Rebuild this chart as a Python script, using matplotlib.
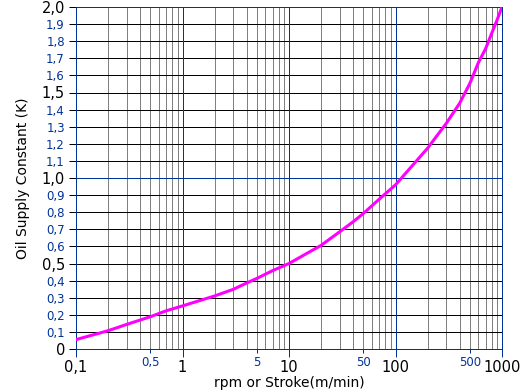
import matplotlib
matplotlib.use("Agg")
import matplotlib.pyplot as plt

# data
speed = [0.1, 0.2, 0.3, 0.5, 0.7, 1, 2, 3, 4, 5, 7, 10, 20, 30, 40, 50, 70, 100,
         200, 300, 400, 500, 600, 700, 800, 900, 1000]
k_const = [0.055, 0.107, 0.144, 0.189, 0.223, 0.252, 0.31, 0.349, 0.386, 0.413, 0.458,
           0.50, 0.606, 0.686, 0.744, 0.793, 0.875, 0.96, 1.174, 1.32, 1.437, 1.554,
           1.675, 1.755, 1.846, 1.925, 2.00]

x_ticks = [0.1, 0.5, 1, 5, 10, 50, 100, 500, 1000]
x_labels = ["0,1", "0,5", "1", "5", "10", "50", "100", "500", "1000"]
y_ticks = [round(i * 0.1, 1) for i in range(21)]
y_labels = ["0" if v == 0 else f"{v:.1f}".replace(".", ",") for v in y_ticks]

BLUE = "#003399"
PX = 0.72  # one pixel in points at 100 dpi
fig = plt.figure(figsize=(5.21, 3.90), dpi=100)
ax = fig.add_axes([76 / 521, 41 / 390, 426 / 521, 342 / 390])

ax.set_xscale("log")
ax.set_xlim(0.1, 1000)
ax.set_ylim(0, 2.0)

# vertical grid
for dec in [0.1, 1, 10, 100]:
    for m in range(2, 10):
        ax.axvline(dec * m, color="#808080", lw=PX, zorder=1)
for dec in [1, 10, 100]:
    ax.axvline(dec, color=BLUE, lw=PX, zorder=1.5)
# horizontal grid
for v in y_ticks[1:-1]:
    ax.axhline(v, color=BLUE if v == 1.0 else "black", lw=PX, zorder=1.2)

ax.plot(speed, k_const, color="#ff00ff", lw=2.2, zorder=3)

for s in ax.spines.values():
    s.set_color(BLUE)
    s.set_linewidth(PX)
    s.set_zorder(2)

ax.set_yticks(y_ticks)
ax.set_yticklabels(y_labels)
ax.tick_params(axis="y", direction="out", length=5, width=PX, color="black", pad=3)
for t, v in zip(ax.yaxis.get_major_ticks(), y_ticks):
    if v == 1.0:
        t.tick1line.set_color(BLUE)
for lab, v in zip(ax.get_yticklabels(), y_ticks):
    if abs(round(v * 10) % 5) == 0:
        lab.set_color("black"); lab.set_fontsize(10.5)
    else:
        lab.set_color(BLUE); lab.set_fontsize(8.5)

ax.xaxis.set_minor_locator(matplotlib.ticker.NullLocator())
ax.set_xticks(x_ticks)
ax.set_xticklabels(x_labels)
ax.tick_params(axis="x", direction="out", length=6, width=PX, color=BLUE, pad=2)
for t, v in zip(ax.xaxis.get_major_ticks(), x_ticks):
    if v in (0.5, 5, 50, 500):
        t.tick1line.set_color("#808080")
        t.tick1line.set_markersize(3)
for lab, v in zip(ax.get_xticklabels(), x_ticks):
    if v in (0.1, 1, 10, 100, 1000):
        lab.set_color("black"); lab.set_fontsize(10.5)
    else:
        lab.set_color(BLUE); lab.set_fontsize(8.5)
        lab.set_y(0.012)

ax.set_xlabel("rpm or Stroke(m/min)", fontsize=10, labelpad=1)
ax.set_ylabel("Oil Supply Constant (K)", fontsize=10, labelpad=8)

fig.savefig("out.png", dpi=100)
